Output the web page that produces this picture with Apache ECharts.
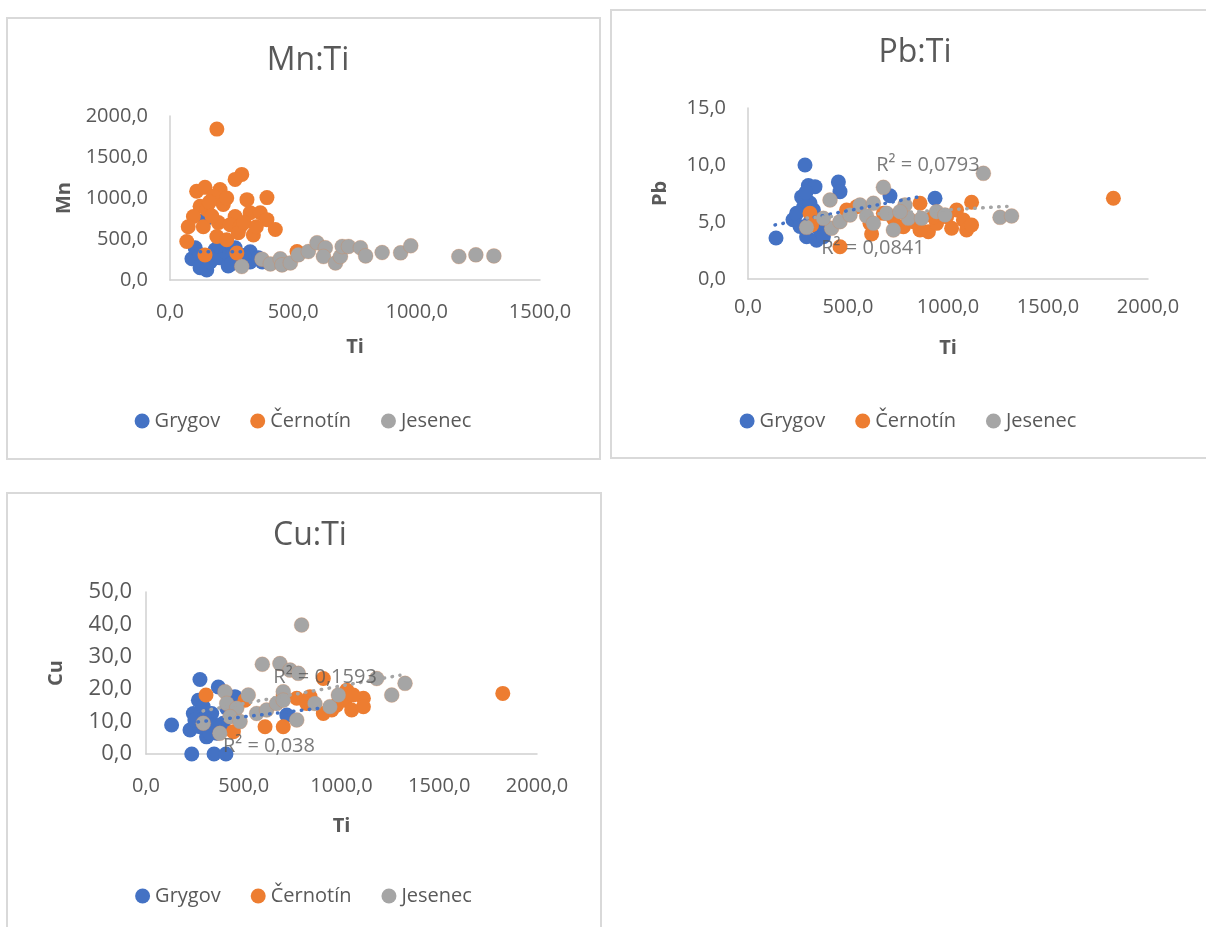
<!DOCTYPE html>
<html>
<head>
<meta charset="utf-8">
<script src="https://cdn.jsdelivr.net/npm/echarts@6/dist/echarts.min.js"></script>
<style>
  html, body { margin:0; padding:0; background:#ffffff; width:1206px; height:927px; overflow:hidden; }
  .c { position:absolute; }
  .b { position:absolute; border:2px solid #D9D9D9; box-sizing:border-box; pointer-events:none; }
</style>
</head>
<body>
<div id="c1" class="c" style="left:6px;top:17px;width:594px;height:442px;"></div>
<div class="b" style="left:6px;top:17px;width:595px;height:443px;"></div>
<div id="c2" class="c" style="left:610px;top:9px;width:596px;height:449px;"></div>
<div class="b" style="left:610px;top:9px;width:600px;height:450px;"></div>
<div id="c3" class="c" style="left:6px;top:492px;width:595px;height:435px;"></div>
<div class="b" style="left:6px;top:492px;width:596px;height:445px;"></div>
<script>
// ---------- data ----------
const seriesNames = ['Grygov', 'Černotín', 'Jesenec'];
const chartTitles = ['Mn:Ti', 'Pb:Ti', 'Cu:Ti'];
const yTitles = ['Mn', 'Pb', 'Cu'];
const xTitle = 'Ti';

// Mn:Ti  [Ti, Mn]
const mnGrygov = [[89,260],[102,393],[122,307],[122,150],[149,123],[142,736],[163,221],[183,368],[203,270],[224,343],[236,172],[264,393],[285,294],[325,221],[325,343],[358,270],[374,221],[200,420],[250,200],[300,300]];
const mnCernotin = [[190,1840],[291,1288],[264,1227],[108,1083],[142,1130],[203,1104],[176,1020],[216,920],[393,1005],[312,980],[122,900],[149,860],[95,775],[264,775],[325,820],[366,820],[393,736],[74,650],[135,650],[196,700],[244,675],[284,650],[427,615],[68,470],[338,550],[190,530],[230,490],[277,577],[142,306],[271,330],[515,347],[160,950],[230,1000],[300,700],[350,650],[170,780]];
const mnJesenec = [[291,164],[373,254],[407,196],[447,258],[454,184],[488,208],[520,307],[561,347],[596,454],[630,393],[622,286],[671,208],[691,286],[698,409],[724,409],[772,393],[793,294],[860,335],[935,331],[976,417],[1171,286],[1240,307],[1313,294]];
const mnTrendGrygov = [[122,343],[293,343]];

// Pb:Ti  [Ti, Pb]
const pbGrygov = [[285,10.0],[140,3.6],[452,8.5],[460,7.66],[302,8.2],[335,8.1],[268,7.2],[935,7.08],[710,7.3],[225,5.2],[260,4.6],[293,3.7],[343,3.4],[327,6.05],[277,6.3],[310,6.66],[360,4.3],[243,5.76],[310,5.0],[377,3.7],[290,7.6],[320,5.5]];
const pbCernotin = [[1827,7.08],[310,5.76],[318,4.74],[460,2.83],[618,3.95],[610,4.88],[860,6.64],[1118,6.73],[1043,6.05],[1077,5.17],[1093,4.3],[1118,4.74],[1018,4.45],[902,4.15],[860,4.3],[777,4.59],[943,4.88],[993,5.47],[827,5.03],[727,5.32],[493,6.05],[543,6.34],[677,5.76],[927,5.47]];
const pbJesenec = [[1177,9.27],[677,8.04],[410,6.93],[293,4.53],[418,4.45],[460,5.03],[510,5.61],[560,6.49],[627,6.64],[593,5.53],[627,4.88],[693,5.76],[727,4.3],[785,6.49],[802,5.32],[868,5.32],[943,5.9],[985,5.61],[1260,5.41],[1318,5.53],[377,5.32],[760,5.9]];
const pbTrendGrygov = [[135,4.74],[875,7.28]];
const pbTrendJesenec = [[295,5.35],[1295,6.37]];
const pbR2 = [['R² = 0,0793', 900, 10.0], ['R² = 0,0841', 625, 2.7]];

// Cu:Ti  [Ti, Cu]
const cuGrygov = [[276,23.0],[131,8.95],[234,0],[348,0],[409,0],[370,20.7],[455,17.7],[720,12.0],[242,12.5],[268,16.6],[225,7.4],[310,5.3],[362,6.4],[276,8.4],[336,12.5],[395,9.5],[413,14.1],[293,14.6],[327,6.4],[250,10.5],[300,11],[350,9]];
const cuCernotin = [[1825,18.7],[307,18.2],[447,6.9],[609,8.4],[702,8.4],[907,23.3],[771,17.2],[839,17.7],[907,12.5],[950,13.6],[1027,19.7],[1018,16.6],[1052,13.6],[1112,17.2],[1112,14.6],[506,16.6],[702,18.2],[822,15.6],[975,15.1],[1060,18.2]];
const cuJesenec = [[796,39.8],[595,27.7],[685,27.9],[737,25.9],[779,24.9],[1180,23.3],[1257,18.2],[1325,21.8],[293,9.5],[378,6.4],[404,19.2],[413,15.6],[464,14.1],[430,11.5],[481,10.0],[523,18.2],[566,12.5],[617,13.6],[668,15.6],[702,19.2],[702,16.6],[771,10.5],[864,15.6],[941,14.6],[984,18.2]];
const cuTrendGrygov = [[266,9.9],[900,14.2]];
const cuTrendJesenec = [[292,13.3],[1299,24.3]];
const cuR2 = [['R² = 0,1593', 916, 23.7], ['R² = 0,038', 629, 2.5]];

// axis ranges [min, max, interval]
const xRanges = [[0,1500,500],[0,2000,500],[0,2000,500]];
const yRanges = [[0,2000,500],[0,15,5],[0,50,10]];

// ---------- styling ----------
const colors = ['#4472C4', '#ED7D31', '#A5A5A5'];
const FONT = '"Open Sans", "Noto Sans", sans-serif';
const TXT = '#595959';
const fmt = v => v.toFixed(1).replace('.', ',');

function build(cfg) {
  const series = [];
  cfg.sets.forEach((d, i) => {
    series.push({
      name: seriesNames[i], type: 'scatter', data: d, symbol: 'circle', symbolSize: 15,
      itemStyle: { color: colors[i], opacity: 1,
        borderColor: i === 2 ? 'rgba(237,125,49,0.22)' : colors[i], borderWidth: i === 2 ? 1 : 0 },
      z: 2 + i
    });
  });
  cfg.trends.forEach(t => {
    series.push({
      name: 'trend', type: 'line', data: t.data, symbol: 'none', silent: true, z: 10,
      lineStyle: { color: colors[t.idx], width: 3.5, type: [0.5, 7.5], cap: 'round' }
    });
  });
  (cfg.r2 || []).forEach(r => {
    series.push({
      name: 'r2', type: 'scatter', silent: true, z: 11, symbolSize: 1,
      itemStyle: { color: 'rgba(0,0,0,0)' },
      data: [[r[1], r[2]]],
      label: { show: true, position: 'inside', formatter: r[0], fontSize: 20, color: TXT, fontFamily: FONT }
    });
  });
  return {
    animation: false,
    textStyle: { fontFamily: FONT },
    title: { text: cfg.title, left: cfg.titleX, top: 23, textAlign: 'center',
      textStyle: { fontSize: 32, fontWeight: 'normal', color: TXT, fontFamily: FONT } },
    legend: { data: seriesNames, left: 'center', top: cfg.legendTop, icon: 'circle',
      itemWidth: 15, itemHeight: 15, itemGap: 30,
      itemStyle: { borderWidth: 0 },
      textStyle: { fontSize: 20, color: TXT, fontFamily: FONT, padding: [0, 0, 0, 0] } },
    grid: cfg.grid,
    xAxis: {
      type: 'value', min: cfg.xr[0], max: cfg.xr[1], interval: cfg.xr[2],
      name: xTitle, nameLocation: 'middle', nameGap: cfg.xNameGap,
      nameTextStyle: { fontSize: 20, fontWeight: 'bold', color: TXT, fontFamily: FONT },
      axisLine: { show: true, onZero: false, lineStyle: { color: '#D0D0D0', width: 1.5 } },
      axisTick: { show: false }, splitLine: { show: false },
      axisLabel: { formatter: fmt, fontSize: 20, color: TXT, margin: cfg.xLabelMargin, fontFamily: FONT }
    },
    yAxis: {
      type: 'value', min: cfg.yr[0], max: cfg.yr[1], interval: cfg.yr[2],
      name: cfg.yTitle, nameLocation: 'middle', nameGap: cfg.yNameGap, nameRotate: 90,
      nameTextStyle: { fontSize: 20, fontWeight: 'bold', color: TXT, fontFamily: FONT },
      axisLine: { show: true, onZero: false, lineStyle: { color: '#D0D0D0', width: 1.5 } },
      axisTick: { show: false }, splitLine: { show: false },
      axisLabel: { formatter: fmt, fontSize: cfg.yLabelSize, color: TXT, margin: cfg.yLabelMargin, fontFamily: FONT }
    },
    series: series
  };
}

const c1 = echarts.init(document.getElementById('c1'));
c1.setOption(build({
  title: chartTitles[0], titleX: 297, legendTop: 389,
  grid: { left: 164, top: 99, width: 370, height: 164 },
  xr: xRanges[0], yr: yRanges[0], yTitle: yTitles[0],
  xNameGap: 57, yNameGap: 62, xLabelMargin: 22, yLabelMargin: 22, yLabelSize: 20,
  sets: [mnGrygov, mnCernotin, mnJesenec],
  trends: [{ idx: 0, data: mnTrendGrygov }]
}));

const c2 = echarts.init(document.getElementById('c2'));
c2.setOption(build({
  title: chartTitles[1], titleX: 300, legendTop: 397,
  grid: { left: 138, top: 99, width: 400, height: 171 },
  xr: xRanges[1], yr: yRanges[1], yTitle: yTitles[1],
  xNameGap: 59, yNameGap: 78, xLabelMargin: 18, yLabelMargin: 22, yLabelSize: 20,
  sets: [pbGrygov, pbCernotin, pbJesenec],
  trends: [{ idx: 0, data: pbTrendGrygov }, { idx: 2, data: pbTrendJesenec }],
  r2: pbR2
}));

const c3 = echarts.init(document.getElementById('c3'));
c3.setOption(build({
  title: chartTitles[2], titleX: 299, legendTop: 389,
  grid: { left: 140, top: 100, width: 391, height: 162 },
  xr: xRanges[2], yr: yRanges[2], yTitle: yTitles[2],
  xNameGap: 62, yNameGap: 80, xLabelMargin: 22, yLabelMargin: 14, yLabelSize: 22,
  sets: [cuGrygov, cuCernotin, cuJesenec],
  trends: [{ idx: 0, data: cuTrendGrygov }, { idx: 2, data: cuTrendJesenec }],
  r2: cuR2
}));
</script>
</body>
</html>
